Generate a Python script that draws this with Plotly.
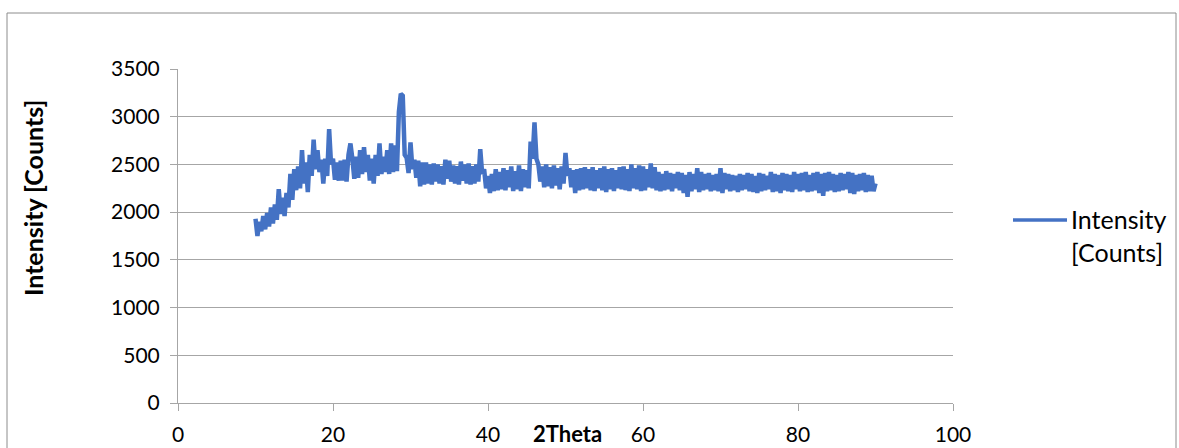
import numpy as np
import plotly.graph_objects as go

# ---- data ----
theta_start = 10.0
theta_stop = 90.0
theta_step = 0.25
two_theta = np.arange(theta_start, theta_stop + theta_step / 2, theta_step)

intensity = [
    1930, 1750, 1900, 1800, 1960, 1820, 1990, 1850,   # 10-11
    2050, 1880, 2080, 1920, 2240, 1980, 2150, 1960,   # 12-13
    2200, 2050, 2400, 2130, 2450, 2230, 2480, 2250,   # 14-15
    2650, 2300, 2520, 2210, 2600, 2380, 2760, 2450,   # 16-17
    2650, 2420, 2550, 2300, 2560, 2380, 2870, 2500,   # 18-19
    2560, 2340, 2520, 2330, 2540, 2330, 2550, 2320,   # 20-21
    2600, 2720, 2560, 2350, 2580, 2360, 2650, 2400,   # 22-23
    2680, 2420, 2600, 2330, 2560, 2300, 2600, 2380,   # 24-25
    2720, 2400, 2580, 2420, 2650, 2400, 2720, 2420,   # 26-27
    2700, 2430, 3050, 3240, 3220, 2600, 2570, 2410,   # 28-29
    2730, 2450, 2550, 2360, 2540, 2270, 2520, 2290,   # 30-31
    2520, 2300, 2500, 2290, 2510, 2320, 2500, 2300,   # 32-33
    2480, 2290, 2550, 2350, 2540, 2320, 2490, 2300,   # 34-35
    2480, 2290, 2530, 2330, 2500, 2300, 2510, 2290,   # 36-37
    2480, 2300, 2500, 2320, 2660, 2400, 2450, 2250,   # 38-39
    2380, 2200, 2400, 2220, 2450, 2230, 2420, 2240,   # 40-41
    2460, 2230, 2440, 2260, 2480, 2220, 2430, 2240,   # 42-43
    2490, 2220, 2450, 2260, 2440, 2250, 2740, 2560,   # 44-45
    2940, 2560, 2500, 2320, 2480, 2260, 2500, 2270,   # 46-47
    2470, 2250, 2490, 2280, 2460, 2240, 2480, 2300,   # 48-49
    2620, 2380, 2460, 2260, 2440, 2200, 2450, 2230,   # 50-51
    2460, 2240, 2470, 2250, 2450, 2230, 2470, 2220,   # 52-53
    2440, 2250, 2460, 2230, 2480, 2210, 2450, 2240,   # 54-55
    2460, 2220, 2440, 2250, 2470, 2240, 2480, 2230,   # 56-57
    2450, 2220, 2500, 2250, 2460, 2240, 2490, 2220,   # 58-59
    2480, 2230, 2450, 2260, 2510, 2250, 2470, 2230,   # 60-61
    2420, 2220, 2400, 2230, 2430, 2240, 2410, 2220,   # 62-63
    2400, 2250, 2420, 2230, 2410, 2200, 2390, 2160,   # 64-65
    2420, 2220, 2400, 2240, 2460, 2210, 2420, 2230,   # 66-67
    2400, 2240, 2410, 2220, 2390, 2230, 2400, 2220,   # 68-69
    2460, 2200, 2410, 2240, 2400, 2220, 2390, 2230,   # 70-71
    2380, 2210, 2400, 2230, 2390, 2240, 2410, 2220,   # 72-73
    2400, 2210, 2380, 2200, 2410, 2220, 2400, 2230,   # 74-75
    2380, 2240, 2420, 2210, 2400, 2220, 2390, 2200,   # 76-77
    2410, 2230, 2400, 2220, 2390, 2210, 2420, 2240,   # 78-79
    2400, 2220, 2410, 2230, 2420, 2210, 2390, 2220,   # 80-81
    2410, 2230, 2420, 2200, 2400, 2170, 2410, 2220,   # 82-83
    2420, 2230, 2400, 2210, 2390, 2220, 2410, 2230,   # 84-85
    2400, 2240, 2420, 2200, 2410, 2190, 2390, 2220,   # 86-87
    2400, 2230, 2410, 2210, 2390, 2220, 2380, 2220,   # 88-89
    2300,                                             # 90
]

series_name = "Intensity [Counts]"
x_title = "2Theta"
y_title = "Intensity [Counts]"
x_ticks = [0, 20, 40, 60, 80, 100]
y_ticks = [0, 500, 1000, 1500, 2000, 2500, 3000, 3500]

# ---- styling ----
W, H = 1179, 448
L, R, T, B = 178, 226, 69, 45
LINE_COLOR = "#4472C4"
AXIS_GRAY = "#A6A6A6"
FONT = "Lato"
TXT = "#000000"

def px_x(px):
    return (px - L) / (W - L - R)

def px_y(py):
    return (H - B - py) / (H - T - B)

fig = go.Figure()
fig.add_trace(go.Scatter(
    x=two_theta, y=intensity, mode="lines", name=series_name,
    line=dict(color=LINE_COLOR, width=4.5, simplify=False), showlegend=False,
))

fig.update_layout(
    width=W, height=H,
    margin=dict(l=L, r=R, t=T, b=B, autoexpand=False),
    paper_bgcolor="white", plot_bgcolor="white",
    font=dict(family=FONT, size=21, color=TXT),
    xaxis=dict(
        range=[0, 100], tickvals=x_ticks, ticktext=[str(v) for v in x_ticks],
        showgrid=False, zeroline=False, showline=True, linecolor=AXIS_GRAY, linewidth=1,
        ticks="outside", ticklen=7, tickcolor=AXIS_GRAY, tickwidth=1, automargin=False,
        tickfont=dict(family=FONT, size=21, color=TXT), ticklabelstandoff=6,
    ),
    yaxis=dict(
        range=[0, 3500], tickvals=y_ticks, ticktext=[str(v) for v in y_ticks],
        showgrid=True, gridcolor=AXIS_GRAY, gridwidth=1, zeroline=False,
        showline=True, linecolor=AXIS_GRAY, linewidth=1, automargin=False,
        ticks="outside", ticklen=7, tickcolor=AXIS_GRAY, tickwidth=1,
        tickfont=dict(family=FONT, size=21, color=TXT), ticklabelstandoff=6,
    ),
)

# axis titles (placed as in the reference)
fig.add_annotation(
    text="<b>" + y_title + "</b>", xref="paper", yref="paper",
    x=px_x(33), y=px_y(198), showarrow=False, textangle=-90,
    font=dict(family=FONT, size=25, color=TXT), xanchor="center", yanchor="middle",
)
fig.add_annotation(
    text="<b>" + x_title + "</b>", xref="paper", yref="paper",
    x=px_x(567), y=px_y(433), showarrow=False,
    font=dict(family=FONT, size=22, color=TXT), xanchor="center", yanchor="middle",
)

# legend (drawn manually to match sample length)
fig.add_shape(type="line", xref="paper", yref="paper",
              x0=px_x(1013), x1=px_x(1067), y0=px_y(220), y1=px_y(220),
              line=dict(color=LINE_COLOR, width=3.5))
fig.add_annotation(
    text="Intensity<br>[Counts]", xref="paper", yref="paper",
    x=px_x(1069), y=px_y(235), showarrow=False, align="left",
    xanchor="left", yanchor="middle",
    font=dict(family=FONT, size=25, color=TXT),
)

# chart border
fig.add_shape(type="rect", xref="paper", yref="paper",
              x0=px_x(7), x1=px_x(1176), y0=px_y(470), y1=px_y(13),
              line=dict(color="#8C8C8C", width=1), fillcolor="rgba(0,0,0,0)", layer="below")

fig.write_html("out.html")
